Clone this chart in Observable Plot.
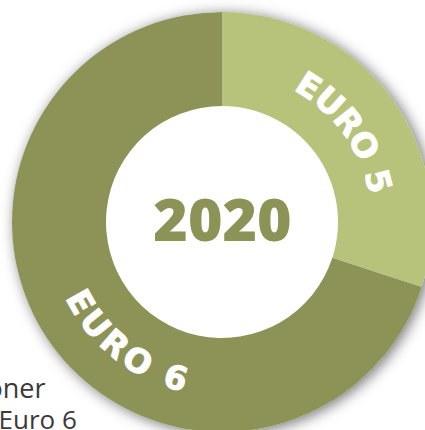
<!DOCTYPE html>
<html><head><meta charset="utf-8">
<script src="https://cdn.jsdelivr.net/npm/d3@7"></script>
<script src="https://cdn.jsdelivr.net/npm/@observablehq/plot@0.6"></script>
<style>html,body{margin:0;padding:0;background:#fff;overflow:hidden}</style>
</head><body><div id="chart"></div>
<script>
// ---- data ----
const labels = ["EURO 5", "EURO 6"];
const shares = [30, 70];
const year = "2020";
const textLines = ["oner", "Euro 6"];
const colors = ["#b7c27a", "#8d9356"];

const data = labels.map((label, i) => ({label, value: shares[i]}));

// ---- style constants ----
const OUTER_R = 210, INNER_R = 116, LETTER_R = 162, CAP_H = 24;
const LABEL_SPAN = 0.9; // radians covered by each curved label
const LABEL_SHIFT = {"EURO 6": -15.5 * Math.PI / 180};

function donutRender(index, scales, values, dimensions) {
  const {width, height, marginLeft, marginRight, marginTop, marginBottom} = dimensions;
  const cx = marginLeft + (width - marginLeft - marginRight) / 2;
  const cy = marginTop + (height - marginTop - marginBottom) / 2;
  const arc = d3.arc().innerRadius(INNER_R).outerRadius(OUTER_R);
  const g = d3.create("svg:g").attr("transform", `translate(${cx},${cy})`);
  g.append("circle").attr("r", OUTER_R).attr("fill", "#fff")
    .style("filter", "drop-shadow(3px 2px 7px rgba(0,0,0,0.55))");
  g.selectAll("path.slice").data(index).join("path")
    .attr("class", "slice")
    .attr("d", i => arc({startAngle: values.x1[i], endAngle: values.x2[i]}))
    .attr("fill", i => values.fill[i]);
  const pt = (r, a) => `${(r * Math.sin(a)).toFixed(2)},${(-r * Math.cos(a)).toFixed(2)}`;
  const half = 80 * Math.PI / 180;
  index.forEach(i => {
    const label = labels[i];
    const mid = (values.x1[i] + values.x2[i]) / 2 + (LABEL_SHIFT[label] || 0);
    const m = ((mid % (2 * Math.PI)) + 2 * Math.PI) % (2 * Math.PI);
    const flip = m > Math.PI / 2 && m < 3 * Math.PI / 2;
    const r = flip ? LETTER_R + CAP_H / 2 : LETTER_R - CAP_H / 2;
    const id = "donut-label-path-" + i;
    const d = flip
      ? `M${pt(r, mid + half)} A${r},${r} 0 0 0 ${pt(r, mid - half)}`
      : `M${pt(r, mid - half)} A${r},${r} 0 0 1 ${pt(r, mid + half)}`;
    g.append("path").attr("id", id).attr("d", d).attr("fill", "none");
    g.append("text")
      .attr("font-size", 33).attr("font-weight", 700)
      .attr("font-family", "'DejaVu Sans', sans-serif")
      .attr("fill", "#fff").attr("stroke", "#fff").attr("stroke-width", 1)
      .attr("stroke-linejoin", "round").attr("text-anchor", "middle")
      .append("textPath")
      .attr("href", "#" + id).attr("startOffset", "50%")
      .attr("textLength", (LABEL_SPAN * r).toFixed(1)).attr("lengthAdjust", "spacing")
      .text(label);
  });
  return g.node();
}

const chart = Plot.plot({
  width: 425, height: 430,
  marginLeft: 19, marginRight: 0, marginTop: 14, marginBottom: 0,
  x: {domain: [0, d3.sum(shares)], range: [0, 2 * Math.PI], axis: null},
  y: {axis: null},
  color: {domain: labels, range: colors},
  style: {fontFamily: "'Open Sans', sans-serif", background: "#fff"},
  marks: [
    Plot.text([textLines[0]], {text: d => d, frameAnchor: "bottom-left", textAnchor: "end", lineAnchor: "bottom", dx: 26, dy: -33, fontSize: 27, fill: "#3a3a3a"}),
    Plot.text([textLines[1]], {text: d => d, frameAnchor: "bottom-left", textAnchor: "start", lineAnchor: "bottom", dx: -21, dy: -2, fontSize: 26, fill: "#3a3a3a"}),
    Plot.barX(data, Plot.stackX({x: "value", fill: "label", render: donutRender})),
    Plot.text([year], {text: d => d, frameAnchor: "middle", fontSize: 59, fontWeight: 800, fill: colors[1]})
  ]
});
document.getElementById("chart").append(chart);
</script>
</body></html>
